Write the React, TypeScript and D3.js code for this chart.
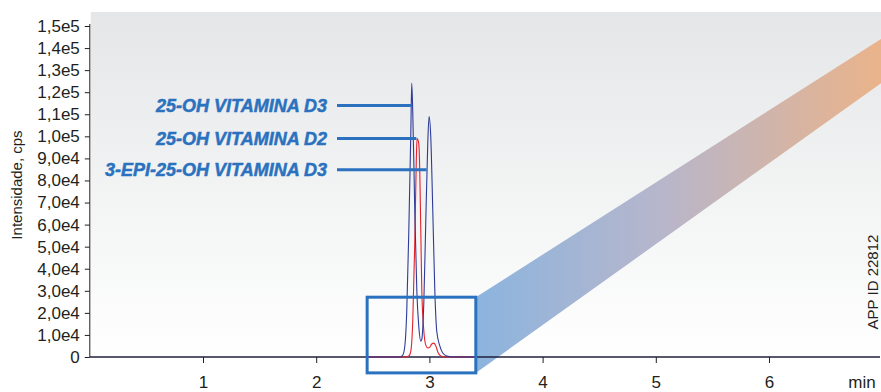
import * as d3 from "d3";
import { useEffect, useRef } from "react";

const W = 881;
const H = 392;

// y ticks and their printed labels
const yTickValues = [0, 10000, 20000, 30000, 40000, 50000, 60000, 70000, 80000, 90000, 100000, 110000, 120000, 130000, 140000, 150000];
const yTickLabels = ["0", "1,0e4", "2,0e4", "3,0e4", "4,0e4", "5,0e4", "6,0e4", "7,0e4", "8,0e4", "9,0e4", "1,0e5", "1,1e5", "1,2e5", "1,3e5", "1,4e5", "1,5e5"];
const xTickValues = [1, 2, 3, 4, 5, 6];

// blue trace: 25-OH vitamina D3 + 3-epi-25-OH vitamina D3 (time min, cps)
const blueTime = [2.45, 2.74, 2.765, 2.783, 2.8, 2.818, 2.836, 2.844, 2.853, 2.871, 2.889, 2.906, 2.924, 2.933, 2.951, 2.968, 2.986, 2.997, 3.012, 3.03, 3.048, 3.065, 3.092, 3.118, 3.154, 3.224, 3.41];
const blueCps = [0, 0, 900, 5000, 20800, 57000, 102000, 124000, 111000, 66000, 29800, 14000, 7200, 8100, 25300, 61500, 97600, 109000, 99900, 66000, 29800, 11700, 5000, 1800, 450, 0, 0];

// red trace: 25-OH vitamina D2
const redTime = [2.45, 2.783, 2.818, 2.836, 2.853, 2.871, 2.884, 2.891, 2.906, 2.915, 2.924, 2.933, 2.951, 2.968, 2.986, 3.004, 3.021, 3.039, 3.057, 3.074, 3.101, 3.145, 3.41];
const redCps = [0, 0, 450, 2700, 16300, 52400, 88600, 99000, 96700, 84000, 57000, 29800, 11700, 5400, 4100, 4500, 5900, 6300, 5000, 2300, 450, 0, 0];

// peak labels and where their leader lines end
const peakNames = ["25-OH VITAMINA D3", "25-OH VITAMINA D2", "3-EPI-25-OH VITAMINA D3"];
const peakLineEnd = [2.84, 2.885, 2.975];
const peakLineCps = [114000, 99000, 84800];

// zoom box (min, cps) and funnel end
const boxTime = [2.45, 3.41];
const boxCps = [-7200, 27100];
const funnelEndTime = 7.0;
const funnelEndCps = [124500, 144500];

const blue = "#2a72bf";
const ink = "#231f20";

export default function App() {
	const xAxisRef = useRef<SVGGElement>(null);
	const yAxisRef = useRef<SVGGElement>(null);

	const x = d3.scaleLinear().domain([0, 7]).range([89.8, 882.2]);
	const y = d3.scaleLinear().domain([0, 150000]).range([357, 26]);

	useEffect(() => {
		const gx = d3.select(xAxisRef.current);
		gx.selectAll("*").remove();
		gx.call(
			d3.axisBottom(x).tickValues(xTickValues).tickSize(6).tickPadding(13).tickFormat(d3.format("d")) as any
		);
		gx.select(".domain").remove();
		gx.selectAll("line").attr("stroke", ink);
		gx.selectAll("text").attr("fill", ink).style("font-size", "17px").style("font-family", "Liberation Sans, Arial, sans-serif");

		const gy = d3.select(yAxisRef.current);
		gy.selectAll("*").remove();
		gy.call(
			d3
				.axisLeft(y)
				.tickValues(yTickValues)
				.tickSize(5)
				.tickPadding(5)
				.tickFormat((_d, i) => yTickLabels[i]) as any
		);
		gy.select(".domain").remove();
		gy.selectAll("line").attr("stroke", ink);
		gy.selectAll("text").attr("fill", ink).style("font-size", "17px").style("font-family", "Liberation Sans, Arial, sans-serif");
	}, []);

	const line = d3
		.line<[number, number]>()
		.x((d) => x(d[0]))
		.y((d) => y(d[1]))
		.curve(d3.curveMonotoneX);

	const bluePts = blueTime.map((t, i) => [t, blueCps[i]] as [number, number]);
	const redPts = redTime.map((t, i) => [t, redCps[i]] as [number, number]);

	const funnel = [
		[x(boxTime[1]), y(boxCps[1])],
		[x(funnelEndTime), y(funnelEndCps[1])],
		[x(funnelEndTime), y(funnelEndCps[0])],
		[x(boxTime[1]), y(boxCps[0])],
	]
		.map((p) => p.join(","))
		.join(" ");

	return (
		<svg
			width={W}
			height={H}
			style={{ position: "absolute", left: 0, top: 0, fontFamily: "Liberation Sans, Arial, sans-serif" }}
		>
			<defs>
				<linearGradient id="bg" x1="0" y1="0" x2="0" y2="1">
					<stop offset="0" stopColor="#e5e6e8" />
					<stop offset="0.55" stopColor="#f3f4f4" />
					<stop offset="1" stopColor="#ffffff" />
				</linearGradient>
				<linearGradient id="fun" gradientUnits="userSpaceOnUse" x1={x(boxTime[1])} y1="0" x2={W} y2="0">
					<stop offset="0" stopColor="#8cb4de" />
					<stop offset="0.45" stopColor="#b6b6cc" />
					<stop offset="1" stopColor="#eab38a" />
				</linearGradient>
			</defs>

			<rect x={x(0) + 1} y={12} width={W - x(0)} height={y(0) - 12} fill="url(#bg)" />

			<polygon points={funnel} fill="url(#fun)" />

			{/* axis lines */}
			<line x1={x(0)} x2={880} y1={y(0)} y2={y(0)} stroke="#1f1f3d" strokeWidth={1.4} />
			<line x1={x(0)} x2={x(0)} y1={y(150000) - 2} y2={y(0)} stroke={ink} strokeWidth={1} />

			<path d={line(redPts) ?? ""} fill="none" stroke="#e4222b" strokeWidth={1.1} />
			<path d={line(bluePts) ?? ""} fill="none" stroke="#2e3c98" strokeWidth={1.1} />

			<g ref={xAxisRef} transform={`translate(0,${y(0)})`} />
			<g ref={yAxisRef} transform={`translate(${x(0)},0)`} />

			<text x={862} y={388} textAnchor="middle" fill={ink} fontSize={17}>
				min
			</text>

			<text
				transform={`translate(22,185) rotate(-90)`}
				textAnchor="middle"
				fill={ink}
				fontSize={15}
			>
				Intensidade, cps
			</text>

			<text transform="translate(878,282) rotate(-90)" textAnchor="middle" fill={ink} fontSize={15}>
				APP ID 22812
			</text>

			{/* zoom box */}
			<rect
				x={x(boxTime[0])}
				y={y(boxCps[1])}
				width={x(boxTime[1]) - x(boxTime[0])}
				height={y(boxCps[0]) - y(boxCps[1])}
				fill="none"
				stroke={blue}
				strokeWidth={3}
			/>

			{/* peak labels */}
			{peakNames.map((name, i) => (
				<g key={name}>
					<line
						x1={337}
						x2={x(peakLineEnd[i])}
						y1={y(peakLineCps[i])}
						y2={y(peakLineCps[i])}
						stroke={blue}
						strokeWidth={3}
					/>
					<text
						x={327}
						y={y(peakLineCps[i]) + 6.5}
						textAnchor="end"
						fill={blue}
						stroke={blue}
						strokeWidth={0.5}
						fontSize={18}
						fontWeight="bold"
						fontStyle="italic"
					>
						{name}
					</text>
				</g>
			))}
		</svg>
	);
}
